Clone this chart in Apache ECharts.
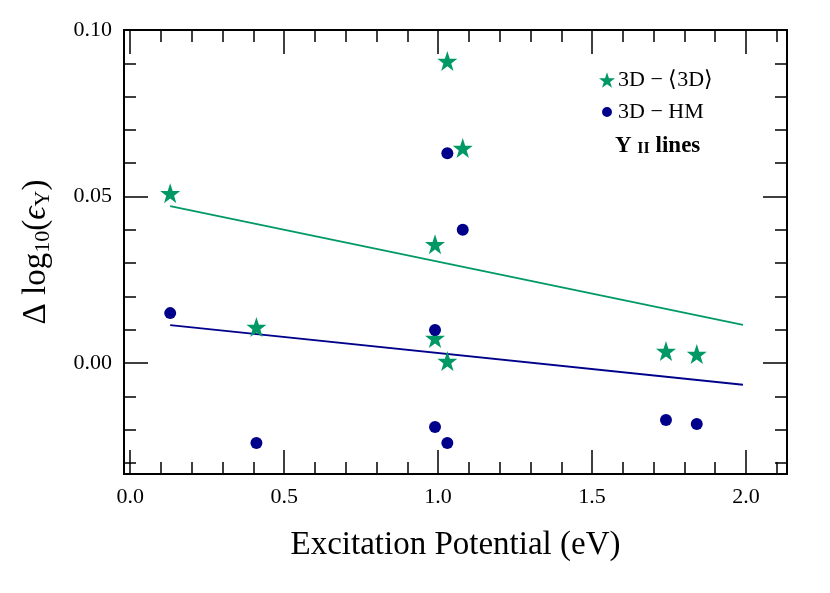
<!DOCTYPE html>
<html>
<head>
<meta charset="utf-8">
<script src="https://cdn.jsdelivr.net/npm/echarts@6/dist/echarts.min.js"></script>
<style>
  html, body { margin: 0; padding: 0; background: #fff; }
  #chart { width: 830px; height: 593px; }
</style>
</head>
<body>
<div id="chart"></div>
<script>
  // 3D - <3D> (stars)
  const starX = [0.13, 0.41, 0.99, 0.99, 1.03, 1.03, 1.08, 1.74, 1.84]
  const starY = [0.051, 0.0108, 0.0357, 0.0075, 0.0907, 0.0006, 0.0646, 0.0036, 0.0027]
  // 3D - HM (circles)
  const dotX = [0.13, 0.41, 0.99, 0.99, 1.03, 1.03, 1.08, 1.74, 1.84]
  const dotY = [0.015, -0.024, 0.0099, -0.0192, 0.063, -0.024, 0.040, -0.0171, -0.0183]
  // linear fits, end points
  const fitX = [0.13, 1.99]
  const fitStarY = [0.0471, 0.0115]
  const fitDotY = [0.0114, -0.0065]

  const xMajor = [0.0, 0.5, 1.0, 1.5, 2.0]
  const xMinor = [0.1, 0.2, 0.3, 0.4, 0.6, 0.7, 0.8, 0.9, 1.1, 1.2, 1.3, 1.4, 1.6, 1.7, 1.8, 1.9, 2.1]
  const yMajor = [0.0, 0.05, 0.10]
  const yMinor = [-0.03, -0.02, -0.01, 0.01, 0.02, 0.03, 0.04, 0.06, 0.07, 0.08, 0.09]

  const green = '#009966'
  const navy = '#00008b'
  const font = 'Liberation Serif'
  const star = 'path://M50,0 L61.8,35.3 L97.6,35.3 L68.7,57.1 L79.4,91.5 L50,70.3 L20.6,91.5 L31.3,57.1 L2.4,35.3 L38.2,35.3 Z'
  // small dot inside a 100x100 box (the two corner specks keep the box)
  const dot = 'path://M0,0 L0.01,0 L0,0.01 Z M100,100 L99.99,100 L100,99.99 Z M50,19 A31,31 0 1 1 49.99,19 Z'

  const pairs = (xs, ys) => xs.map((x, i) => [x, ys[i]])

  function xAx(pos, ticks, len, labels, extra) {
    return Object.assign({
      type: 'value', position: pos, min: -0.02, max: 2.133,
      axisLine: { show: false, onZero: false },
      splitLine: { show: false },
      axisTick: { show: true, inside: true, length: len, customValues: ticks,
        lineStyle: { color: '#000', width: 1.5 } },
      axisLabel: labels ? { show: true, customValues: ticks, fontFamily: font, fontSize: 22,
        color: '#000', margin: 12, formatter: v => v.toFixed(1) } : { show: false }
    }, extra || {})
  }
  function yAx(pos, ticks, len, labels, extra) {
    return Object.assign({
      type: 'value', position: pos, min: -0.0333, max: 0.10,
      axisLine: { show: false, onZero: false },
      splitLine: { show: false },
      axisTick: { show: true, inside: true, length: len, customValues: ticks,
        lineStyle: { color: '#000', width: 1.5 } },
      axisLabel: labels ? { show: true, customValues: ticks, fontFamily: font, fontSize: 22,
        color: '#000', margin: 12, formatter: v => v.toFixed(2) } : { show: false }
    }, extra || {})
  }

  const chart = echarts.init(document.getElementById('chart'))
  chart.setOption({
    animation: false,
    backgroundColor: '#fff',
    grid: { left: 124, right: 43, top: 30, bottom: 119, show: true,
      borderColor: '#000', borderWidth: 2, backgroundColor: 'transparent' },
    legend: {
      orient: 'vertical', left: 594, top: 64, itemGap: 10,
      itemWidth: 16, itemHeight: 16,
      textStyle: { fontFamily: font, fontSize: 22, color: '#000', padding: [0, 0, 0, -2] },
      data: [
        { name: '3D − ⟨3D⟩', icon: star },
        { name: '3D − HM', icon: dot }
      ]
    },
    graphic: [{
      type: 'text', left: 615, top: 135,
      style: {
        text: '{b|Y }{s|II}{b| lines}',
        rich: {
          b: { fontFamily: font, fontSize: 23, fontWeight: 'bold', fill: '#000' },
          s: { fontFamily: font, fontSize: 16, fontWeight: 'bold', fill: '#000', padding: [4, 0, 0, 0] }
        }
      }
    }],
    xAxis: [
      xAx('bottom', xMajor, 24, true, {
        name: 'Excitation Potential (eV)', nameLocation: 'middle', nameGap: 55,
        nameTextStyle: { fontFamily: font, fontSize: 33, color: '#000' }
      }),
      xAx('bottom', xMinor, 12, false),
      xAx('top', xMajor, 24, false),
      xAx('top', xMinor, 12, false)
    ],
    yAxis: [
      yAx('left', yMajor, 24, true, {
        name: '{a|Δ log}{s|10}{a|(}{i|ϵ}{s|Y}{a|)}', nameLocation: 'middle', nameGap: 70,
        nameRotate: 90,
        nameTextStyle: {
          rich: {
            a: { fontFamily: font, fontSize: 33, color: '#000' },
            i: { fontFamily: font, fontSize: 33, fontStyle: 'italic', color: '#000' },
            s: { fontFamily: font, fontSize: 22, color: '#000', padding: [14, 0, 0, 0] }
          }
        }
      }),
      yAx('left', yMinor, 12, false),
      yAx('right', yMajor, 24, false),
      yAx('right', yMinor, 12, false)
    ],
    series: [
      {
        name: '3D − ⟨3D⟩', type: 'scatter', symbol: star, symbolSize: 20,
        itemStyle: { color: green, opacity: 1 }, data: pairs(starX, starY), z: 3
      },
      {
        name: '3D − HM', type: 'scatter', symbol: 'circle', symbolSize: 12,
        itemStyle: { color: navy, opacity: 1 }, data: pairs(dotX, dotY), z: 4
      },
      {
        type: 'line', data: pairs(fitX, fitStarY), showSymbol: false, symbol: 'none',
        lineStyle: { color: green, width: 1.8 }, z: 2
      },
      {
        type: 'line', data: pairs(fitX, fitDotY), showSymbol: false, symbol: 'none',
        lineStyle: { color: navy, width: 1.8 }, z: 2
      }
    ]
  })
</script>
</body>
</html>
